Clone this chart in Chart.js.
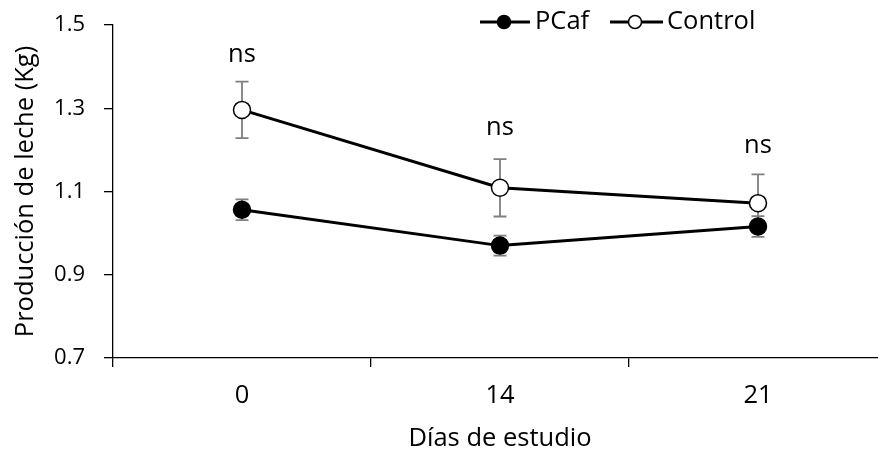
<!DOCTYPE html>
<html>
<head>
<meta charset="utf-8">
<script src="https://cdn.jsdelivr.net/npm/chart.js@4.4.1/dist/chart.umd.min.js"></script>
<style>
html,body{margin:0;padding:0;overflow:hidden;background:#fff;}
#clip{position:relative;width:878px;height:451px;overflow:hidden;}
#wrap{position:absolute;left:0;top:0;width:888px;height:451px;}
</style>
</head>
<body>
<div id="clip"><div id="wrap"><canvas id="c"></canvas></div></div>
<script>
const categories = ['0', '14', '21'];
const pcaf = [1.056, 0.970, 1.016];
const pcafErr = [0.025, 0.024, 0.025];
const control = [1.296, 1.109, 1.072];
const controlErr = [0.068, 0.069, 0.069];
const sigLabels = ['ns', 'ns', 'ns'];
const sigY = [1.41, 1.236, 1.193];
const yTicks = [0.7, 0.9, 1.1, 1.3, 1.5];

const FONT = '"Open Sans", sans-serif';
const FS = 25.5;
const FS_Y = 22;

const errorBars = {
  id: 'errorBars',
  beforeDatasetsDraw(chart) {
    const ctx = chart.ctx, y = chart.scales.y;
    const errs = [pcafErr, controlErr];
    ctx.save();
    ctx.strokeStyle = '#7f7f7f';
    ctx.lineWidth = 1.8;
    chart.data.datasets.forEach((ds, di) => {
      const meta = chart.getDatasetMeta(di);
      meta.data.forEach((pt, i) => {
        const v = ds.data[i], e = errs[di][i];
        const x = pt.x, yt = y.getPixelForValue(v + e), yb = y.getPixelForValue(v - e);
        ctx.beginPath();
        ctx.moveTo(x, yt); ctx.lineTo(x, yb);
        ctx.moveTo(x - 6.5, yt); ctx.lineTo(x + 6.5, yt);
        ctx.moveTo(x - 6.5, yb); ctx.lineTo(x + 6.5, yb);
        ctx.stroke();
      });
    });
    ctx.restore();
  },
  afterDatasetsDraw(chart) {
    const ctx = chart.ctx, y = chart.scales.y, x = chart.scales.x;
    ctx.save();
    ctx.fillStyle = '#000';
    ctx.font = FS + 'px ' + FONT;
    ctx.textAlign = 'center';
    ctx.textBaseline = 'alphabetic';
    sigLabels.forEach((t, i) => {
      ctx.fillText(t, x.getPixelForValue(i), y.getPixelForValue(sigY[i]));
    });
    // legend
    const ly = 22;
    const items = [
      {x0: 480, x1: 530, m: 504, fill: '#000', label: 'PCaf', tx: 535},
      {x0: 610, x1: 663, m: 635, fill: '#fff', label: 'Control', tx: 667}
    ];
    items.forEach(it => {
      ctx.strokeStyle = '#000';
      ctx.lineWidth = 3;
      ctx.beginPath(); ctx.moveTo(it.x0, ly); ctx.lineTo(it.x1, ly); ctx.stroke();
      ctx.beginPath(); ctx.arc(it.m, ly, 6.5, 0, Math.PI * 2);
      ctx.fillStyle = it.fill; ctx.fill();
      ctx.lineWidth = 1.5; ctx.stroke();
      ctx.fillStyle = '#000';
      ctx.textAlign = 'left';
      ctx.textBaseline = 'middle';
      ctx.fillText(it.label, it.tx, ly);
    });
    ctx.restore();
  }
};

new Chart(document.getElementById('c'), {
  type: 'line',
  data: {
    labels: categories,
    datasets: [
      {label: 'PCaf', data: pcaf, borderColor: '#000', borderWidth: 3, backgroundColor: '#000',
       pointRadius: 8.5, pointBackgroundColor: '#000', pointBorderColor: '#000', pointBorderWidth: 1.5, tension: 0},
      {label: 'Control', data: control, borderColor: '#000', borderWidth: 3, backgroundColor: '#fff',
       pointRadius: 8.5, pointBackgroundColor: '#fff', pointBorderColor: '#000', pointBorderWidth: 1.5, tension: 0}
    ]
  },
  options: {
    responsive: true,
    maintainAspectRatio: false,
    animation: false,
    devicePixelRatio: 1,
    layout: {autoPadding: false, padding: {left: 13, top: 25, right: 1, bottom: 0}},
    plugins: {legend: {display: false}, tooltip: {enabled: false}},
    scales: {
      x: {
        type: 'category',
        offset: true,
        grid: {display: true, offset: true, drawOnChartArea: false, drawTicks: true, tickLength: 9, color: '#000', lineWidth: 1.3},
        border: {display: true, color: '#000', width: 1.3},
        ticks: {color: '#000', font: {family: FONT, size: FS, lineHeight: 1}, padding: 16, maxRotation: 0},
        title: {display: true, text: 'Días de estudio', color: '#000', font: {family: FONT, size: FS, lineHeight: 1}, padding: 0},
        afterFit(s) { s.height = 93; s.paddingLeft = 0; s.paddingRight = 0; }
      },
      y: {
        min: 0.7, max: 1.5,
        afterBuildTicks(s) { s.ticks = yTicks.map(v => ({value: v})); },
        grid: {display: true, drawOnChartArea: false, drawTicks: true, tickLength: 9, color: '#000', lineWidth: 1.3},
        border: {display: true, color: '#000', width: 1.3},
        ticks: {color: '#000', font: {family: FONT, size: FS_Y}, padding: 19, callback: v => v.toFixed(1)},
        title: {display: true, text: 'Producción de leche (Kg)', color: '#000', font: {family: FONT, size: FS, lineHeight: 1}, padding: 0},
        afterFit(s) { s.width = 100; s.paddingTop = 0; s.paddingBottom = 0; }
      }
    }
  },
  plugins: [errorBars]
});
</script>
</body>
</html>
